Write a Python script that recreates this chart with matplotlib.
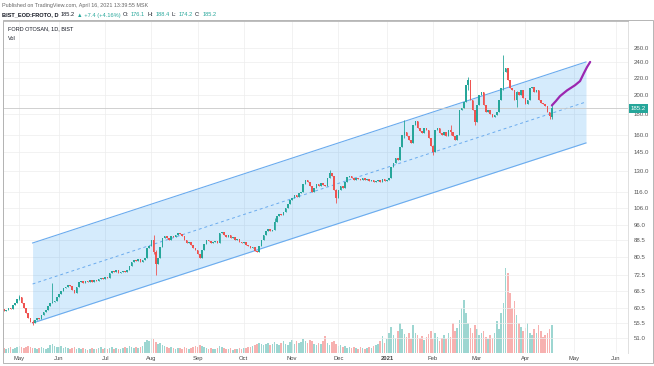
import matplotlib
matplotlib.use("Agg")
import matplotlib.pyplot as plt
from matplotlib.patches import Rectangle
from matplotlib.ticker import NullLocator
from matplotlib.transforms import blended_transform_factory

plt.rcParams['font.family'] = ['Liberation Sans', 'DejaVu Sans']

# daily closes FROTO (bar index 0 = late April 2020, last bar = 16 Apr 2021)
close = [
    59.4, 59.7, 60.4, 60.0, 61.4, 62.1, 63.5, 64.2, 62.1, 60.4,
    58.7, 57.1, 55.8, 55.5, 56.4, 57.1, 56.8, 58.0, 59.0, 59.7,
    61.1, 62.1, 62.4, 62.8, 64.2, 65.3, 66.4, 67.6, 67.9, 68.7,
    68.3, 66.8, 65.7, 67.9, 69.9, 70.3, 69.5, 70.3, 69.9, 70.7,
    69.9, 70.7, 70.3, 71.1, 71.5, 71.1, 71.9, 71.5, 73.5, 74.3,
    73.9, 74.7, 73.5, 73.9, 74.3, 73.9, 74.7, 76.4, 78.2, 79.1,
    78.6, 79.5, 78.2, 79.1, 79.9, 84.6, 85.5, 88.5, 82.7, 77.3,
    79.9, 85.0, 89.5, 90.5, 89.5, 88.5, 90.5, 90.0, 91.0, 92.0,
    91.5, 90.5, 88.5, 87.0, 87.5, 86.1, 84.6, 83.6, 81.8, 79.9,
    83.6, 86.5, 88.5, 88.0, 87.0, 87.5, 88.0, 87.0, 92.0, 92.5,
    91.0, 90.2, 90.8, 89.4, 89.9, 88.3, 88.9, 87.6, 86.8, 87.3,
    86.2, 85.7, 84.6, 84.9, 83.3, 82.6, 85.4, 88.3, 91.2, 93.0,
    94.1, 93.1, 93.6, 97.9, 101.2, 102.3, 101.8, 103.5, 105.9, 108.3,
    110.7, 112.0, 113.9, 112.6, 115.2, 115.9, 121.2, 123.9, 122.5, 119.8,
    115.9, 118.5, 121.2, 119.8, 121.9, 120.5, 119.8, 125.3, 129.0, 126.8,
    117.2, 112.0, 117.2, 119.8, 118.5, 122.5, 126.0, 126.8, 125.3, 123.9,
    125.3, 124.6, 123.9, 125.3, 123.9, 124.6, 123.2, 123.9, 122.5, 123.2,
    123.9, 122.5, 124.6, 123.2, 123.9, 125.3, 133.3, 136.3, 140.2, 138.7,
    149.2, 159.5, 162.3, 158.6, 155.1, 152.5, 168.7, 172.6, 165.9, 163.2,
    161.4, 165.9, 164.1, 156.9, 150.0, 145.0, 164.1, 165.9, 161.4, 159.5,
    162.3, 158.6, 164.1, 162.3, 158.6, 155.1, 159.5, 183.6, 185.7, 191.9,
    211.3, 217.4, 194.2, 183.6, 171.6, 188.8, 199.7, 203.2, 188.8, 181.6,
    183.6, 179.5, 176.5, 178.5, 181.6, 194.2, 207.8, 227.3, 232.5, 217.4,
    207.8, 205.5, 194.2, 203.2, 199.7, 205.5, 196.4, 190.0, 194.2, 207.8,
    209.0, 203.2, 205.5, 194.2, 191.0, 190.0, 187.8, 181.6, 177.8, 185.2,
]
first_open = 59.9
last_open = 176.1

# visible long wicks: bar -> (low, high)
wicks = {7: (63.0, 64.9), 13: (54.9, 56.6), 22: (62.0, 69.5), 68: (82.0, 91.0),
         69: (72.7, 83.5), 123: (93.5, 100.1), 148: (125.0, 131.1), 151: (108.9, 118.0),
         182: (157.0, 173.6), 195: (142.6, 151.0), 203: (160.0, 168.8), 211: (205.0, 221.3),
         214: (168.8, 184.0), 227: (206.0, 250.0), 233: (186.7, 204.0), 248: (175.0, 182.0),
         249: (174.2, 188.4)}

# volume (x100k lots)
volume = [
    5, 4, 5, 6, 4, 5, 6, 7, 6, 5,
    6, 7, 6, 5, 5, 4, 5, 6, 5, 4,
    5, 8, 9, 7, 6, 6, 7, 5, 6, 5,
    4, 5, 6, 4, 5, 4, 5, 4, 3, 4,
    5, 4, 4, 5, 6, 4, 5, 4, 5, 6,
    4, 5, 4, 4, 5, 6, 5, 7, 6, 5,
    6, 5, 6, 7, 11, 13, 12, 15, 14, 11,
    9, 10, 8, 7, 6, 5, 6, 5, 4, 5,
    5, 4, 6, 5, 4, 5, 6, 7, 6, 8,
    7, 6, 5, 4, 5, 4, 4, 5, 7, 6,
    5, 4, 4, 5, 3, 4, 4, 5, 4, 5,
    5, 6, 6, 7, 8, 9, 10, 9, 8, 9,
    10, 8, 9, 11, 9, 8, 10, 12, 9, 8,
    11, 13, 9, 12, 10, 11, 14, 12, 10, 13,
    12, 9, 8, 10, 9, 12, 17, 10, 8, 11,
    12, 9, 7, 8, 6, 7, 5, 6, 5, 6,
    5, 4, 6, 5, 4, 5, 6, 5, 7, 8,
    9, 12, 17, 10, 14, 20, 26, 18, 15, 22,
    30, 24, 19, 16, 20, 14, 28, 20, 18, 15,
    17, 13, 16, 19, 22, 14, 20, 16, 12, 15,
    18, 14, 20, 16, 30, 22, 25, 33, 45, 53,
    40, 30, 25, 20, 28, 24, 18, 20, 22, 16,
    14, 18, 15, 20, 32, 24, 40, 50, 85, 80,
    60, 45, 52, 38, 30, 26, 22, 25, 30, 20,
    18, 24, 20, 28, 22, 16, 18, 20, 24, 28,
]

# first bar of each month
month_bars = [7, 25, 46, 67, 88, 109, 131, 152, 174, 195, 215, 237, 259, 278]
month_labels = ['May', 'Jun', 'Jul', 'Aug', 'Sep', 'Oct', 'Nov', 'Dec', '2021',
                'Feb', 'Mar', 'Apr', 'May', 'Jun']

price_ticks = [51.0, 55.5, 60.5, 66.5, 72.5, 80.5, 88.5, 96.0, 106.0, 116.0,
               130.0, 145.0, 160.0, 180.0, 200.0, 220.0, 240.0, 260.0]

# regression channel (log)
chan_bars = [13, 264.5]
chan_upper = [87.0, 240.5]
chan_mid = [69.1, 192.1]
chan_lower = [55.5, 152.6]

# projected path
proj_bars = [249, 250.8, 252.7, 255.9, 259.5, 261.8, 263.6, 265.0, 266.4]
proj_price = [188.4, 193.0, 198.5, 205.0, 211.0, 216.0, 226.1, 233.8, 240.5]

last_price = 185.2

UP = '#26a69a'
DOWN = '#ef5350'
W, H = 654, 366

fig = plt.figure(figsize=(W / 100, H / 100), dpi=100)
ax = fig.add_axes([3 / W, 13 / H, 625 / W, 332 / H])
axv = ax.twinx()
ax.set_zorder(axv.get_zorder() + 1)
ax.patch.set_visible(False)

n = len(close)
opens = [first_open] + close[:-1]
opens[-1] = last_open
xs = list(range(n))

# volume
vcol = [UP if close[i] >= opens[i] else DOWN for i in xs]
axv.bar(xs, volume, width=0.75, color=vcol, alpha=0.45, linewidth=0)
axv.set_ylim(0, 332)
axv.set_yticks([])
for s in axv.spines.values():
    s.set_visible(False)

# channel
ax.fill_between(chan_bars, chan_lower, chan_upper, color='#2196f3', alpha=0.19, linewidth=0)
ax.plot(chan_bars, chan_upper, color='#6aabee', lw=0.8)
ax.plot(chan_bars, chan_lower, color='#6aabee', lw=0.8)
ax.plot(chan_bars, chan_mid, color='#6aabee', lw=0.7, ls=(0, (3, 3)))

ax.axhline(last_price, color='#c9c9c9', lw=0.6)

# candles
for i in xs:
    o, c = opens[i], close[i]
    col = UP if c >= o else DOWN
    lo, hi = wicks.get(i, (min(o, c), max(o, c)))
    ax.vlines(i, lo, hi, color=col, lw=0.6, zorder=3)
    b0, b1 = min(o, c), max(o, c)
    if b1 / b0 < 1.005:
        b1 = b0 * 1.005
    ax.bar(i, b1 - b0, bottom=b0, width=0.72, color=col, linewidth=0, zorder=3)

ax.plot(proj_bars, proj_price, color='#9c27b0', lw=1.6, solid_capstyle='round', zorder=4)

ax.set_yscale('log')
ax.set_ylim(46.9, 302.7)
ax.set_xlim(-0.45, 283.6)
ax.yaxis.tick_right()
ax.set_yticks(price_ticks)
ax.set_yticklabels(['%.1f' % p for p in price_ticks])
ax.yaxis.set_minor_locator(NullLocator())
ax.set_xticks(month_bars)
ax.set_xticklabels(month_labels)
for lbl in ax.get_xticklabels():
    if lbl.get_text() == '2021':
        lbl.set_fontweight('bold')
        lbl.set_color('#131722')
ax.tick_params(axis='y', length=0, pad=4, labelsize=4.4, labelcolor='#555555')
ax.tick_params(axis='x', length=0, pad=2.5, labelsize=4.2, labelcolor='#444444')
ax.grid(True, color='#ededed', lw=0.5)
ax.set_axisbelow(True)
ax.spines['left'].set_color('#9a9a9a')
ax.spines['top'].set_color('#bdbdbd')
ax.spines['right'].set_color('#e0e0e0')
ax.spines['bottom'].set_visible(False)
for s in ax.spines.values():
    s.set_linewidth(0.7)

# last price tag
tr = blended_transform_factory(ax.transAxes, ax.transData)
ax.text(1.0 + 3 / 625, last_price, '%.1f' % last_price, transform=tr, fontsize=4.4,
        color='white', va='center', ha='left', clip_on=False, zorder=10,
        bbox=dict(facecolor=UP, edgecolor='none', pad=1.2))

# outer frame
fig.patches.append(Rectangle((3 / W, 1 - 363 / H), 650 / W, 343 / H, transform=fig.transFigure,
                             fill=False, edgecolor='#b5b5b5', lw=0.7))

fig.text(2 / W, 1 - 5 / H, 'Published on TradingView.com, April 16, 2021 13:39:55 MSK',
         fontsize=3.9, color='#666666', va='center')

r = fig.canvas.get_renderer()
parts = [('BIST_EOD:FROTO, D', '#131722', 'bold'), ('185.2', '#131722', 'normal'),
         ('\u25b2 +7.4 (+4.16%)', UP, 'normal'), ('O:', '#131722', 'normal'),
         ('176.1', UP, 'normal'), ('H:', '#131722', 'normal'), ('188.4', UP, 'normal'),
         ('L:', '#131722', 'normal'), ('174.2', UP, 'normal'), ('C:', '#131722', 'normal'),
         ('185.2', UP, 'normal')]
x = 2
for txt, col, wt in parts:
    t = fig.text(x / W, 1 - 15 / H, txt, fontsize=4.1, color=col, fontweight=wt, va='center')
    bb = t.get_window_extent(renderer=r)
    x = bb.x1 + 2.2

fig.text(8 / W, 1 - 29 / H, 'FORD OTOSAN, 1D, BIST', fontsize=4.0, color='#131722', va='center')
fig.text(8 / W, 1 - 38 / H, 'Vol', fontsize=4.0, color='#131722', va='center')

fig.savefig('out.png', dpi=100)
